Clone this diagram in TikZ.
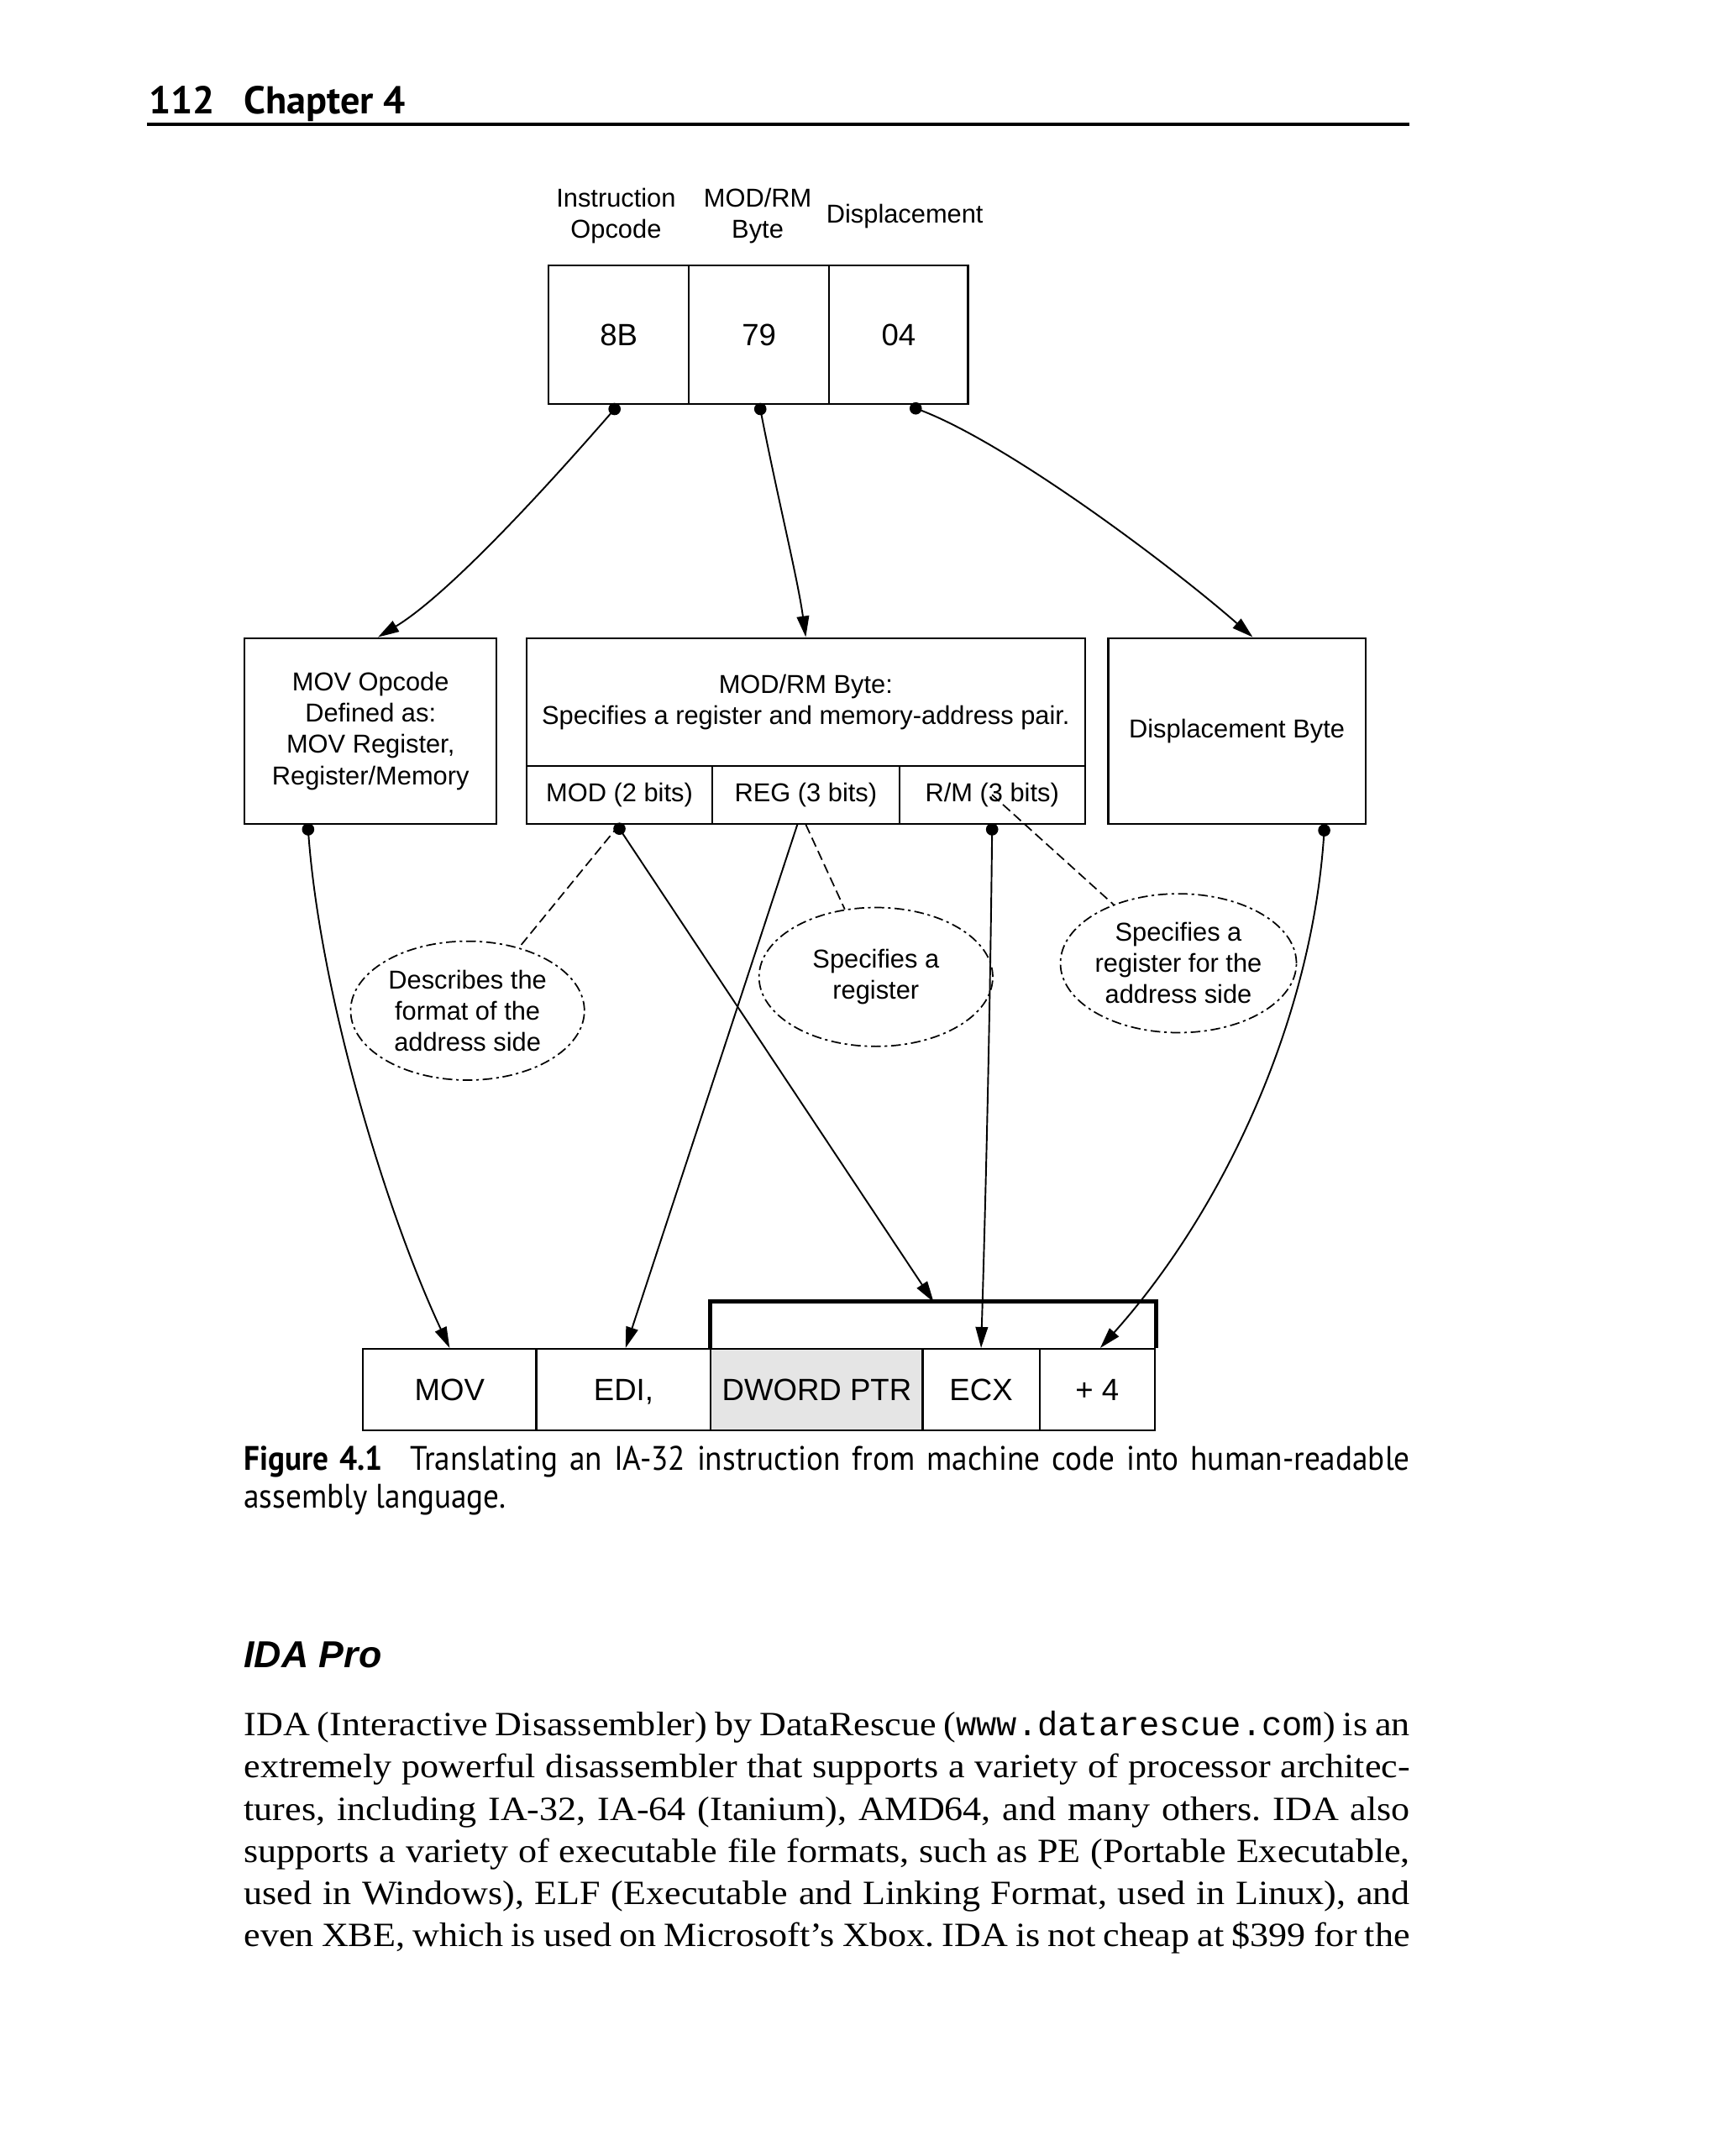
\documentclass[tikz,border=0pt]{standalone}
\usepackage{fontspec}
\setmainfont{Liberation Serif}
\newfontfamily\diafont{Liberation Sans}
\newfontfamily\capfont[FakeStretch=0.92]{PT Sans}
\newfontfamily\headfont{PT Sans}
\newfontfamily\bodyfont[FakeStretch=1.09]{Liberation Serif}
\newfontfamily\wwwfont{Liberation Mono}
\newfontfamily\idafont{Liberation Sans}
\usetikzlibrary{arrows.meta,shapes.geometric,calc}
\newlength\pxu
\setlength\pxu{0.425pt}
\begin{document}
\begin{tikzpicture}[x=0.425pt,y=-0.425pt,
  lbl/.style={align=center,inner sep=0pt,font=\diafont\fontsize{8}{9.4}\selectfont},
  cell/.style={draw,line width=0.55pt,inner sep=0pt,text height=6.8pt,text depth=0pt,
    font=\diafont\fontsize{9.5}{11}\selectfont},
  box/.style={draw,line width=0.55pt,inner sep=0pt,align=center,font=\diafont\fontsize{8}{9.7}\selectfont},
  note/.style={ellipse,draw,line width=0.45pt,dash pattern=on 3pt off 1.2pt on 0.8pt off 1.2pt,
    minimum width=170*\pxu,minimum height=101*\pxu,inner sep=0pt,align=center,
    font=\diafont\fontsize{8}{9.6}\selectfont},
  dashln/.style={line width=0.45pt,dash pattern=on 3pt off 1.5pt},
  arr/.style={line width=0.5pt,-{Triangle[length=6.5pt,width=3.8pt]}},
  txt/.style={anchor=base west,inner sep=0pt},
  bodyln/.style={txt,font=\bodyfont\fontsize{10.5}{13}\selectfont\frenchspacing}
]
\useasboundingbox (0,0) rectangle (1251,1568);
\fill[white] (0,0) rectangle (1251,1568);

% ---------- page header ----------
\node[txt,font=\headfont\bfseries\fontsize{12}{14}\selectfont] (pgno) at (108,82.5) {112};
\node[txt,font=\headfont\bfseries\fontsize{12}{14}\selectfont] (chap) at (177,82.5) {Chapter 4};
\draw[line width=0.9pt] (107,90.5) -- (1025,90.5);

% ---------- top labels ----------
\node[lbl] (lopc) at (448,157) {Instruction\\Opcode};
\node[lbl] (lmod) at (551,157) {MOD/RM\\Byte};
\node[lbl] (ldsp) at (658,157) {Displacement};

% ---------- top bytes ----------
\node[cell,minimum width=102*\pxu,minimum height=101*\pxu] (b8b) at (450,243.5) {8B};
\node[cell,minimum width=102*\pxu,minimum height=101*\pxu] (b79) at (552,243.5) {79};
\node[cell,minimum width=101*\pxu,minimum height=101*\pxu] (b04) at (653.5,243.5) {04};

% ---------- middle boxes ----------
\node[box,minimum width=183*\pxu,minimum height=135*\pxu] (mov) at (269.5,531.5)
  {MOV Opcode\\Defined as:\\MOV Register,\\Register/Memory};
\node[box,minimum width=406*\pxu,minimum height=93*\pxu] (modrm) at (586,510.5)
  {MOD/RM Byte:\\Specifies a register and memory-address pair.};
\node[box,minimum width=135*\pxu,minimum height=42*\pxu] (modf) at (450.5,578) {MOD (2 bits)};
\node[box,minimum width=136*\pxu,minimum height=42*\pxu] (regf) at (586,578) {REG (3 bits)};
\node[box,minimum width=135*\pxu,minimum height=42*\pxu] (rmf) at (721.5,578) {R/M (3 bits)};
\node[box,minimum width=187*\pxu,minimum height=135*\pxu] (dispb) at (899.5,531.5) {Displacement Byte};

% ---------- notes ----------
\node[note] (e1) at (340,735) {Describes the\\format of the\\address side};
\node[note] (e2) at (637,710.5) {Specifies a\\register};
\node[note] (e3) at (857,700.5) {Specifies a\\register for the\\address side};

% ---------- bottom instruction ----------
\node[cell,minimum width=126*\pxu,minimum height=59*\pxu] (tmov) at (327,1010.5) {MOV};
\node[cell,minimum width=127*\pxu,minimum height=59*\pxu] (tedi) at (453.5,1010.5) {EDI,};
\node[cell,minimum width=154*\pxu,minimum height=59*\pxu,fill=black!10] (tdw) at (594,1010.5) {DWORD PTR};
\node[cell,minimum width=85*\pxu,minimum height=59*\pxu] (tecx) at (713.5,1010.5) {ECX};
\node[cell,minimum width=84*\pxu,minimum height=59*\pxu] (tp4) at (798,1010.5) {+ 4};
\draw[line width=1.3pt] (tdw.north west) -- ++(0,-34) -| (tp4.north east);
\coordinate (brk) at (679,947);

% ---------- dots ----------
\coordinate (d1) at ([xshift=-1.3pt,yshift=-1.2pt]b8b.south);
\coordinate (d2) at ([xshift=0.4pt,yshift=-1.2pt]b79.south);
\coordinate (d3) at ([xshift=5.3pt,yshift=-1.0pt]b04.south);
\coordinate (d4) at ([xshift=-19.3pt,yshift=-1.5pt]mov.south);
\coordinate (d5) at ([yshift=-1.3pt]modf.south);
\coordinate (d6) at ([yshift=-1.5pt]rmf.south);
\coordinate (d7) at ([xshift=27pt,yshift=-1.8pt]dispb.south);
\foreach \d in {d1,d2,d3,d4,d5,d6,d7} \fill (\d) circle (1.9pt);

% ---------- connectors ----------
\draw[arr] (d1) .. controls (410,340) and (330,430) .. ([xshift=2.3pt]mov.north);
\draw[arr] (d2) .. controls (565,360) and (580,420) .. (modrm.north);
\draw[arr] (d3) .. controls (730,320) and (850,410) .. ([xshift=4.9pt]dispb.north);
\draw[arr] (d4) .. controls (232,720) and (280,880) .. (tmov.north);
\draw[arr] ([xshift=-2.6pt]regf.south) -- ([xshift=0.6pt]tedi.north);
\draw[arr] (d5) -- (brk);
\draw[arr] (d6) .. controls (720,750) and (716,900) .. (tecx.north);
\draw[arr] (d7) .. controls (955,740) and (890,880) .. ([xshift=0.9pt]tp4.north);

\draw[dashln] (modf.south) -- (e1);
\draw[dashln] (regf.south) -- (e2);
\draw[dashln] (rmf.center) -- (e3);

% ---------- caption ----------
\node[txt,font=\capfont\fontsize{10.5}{12}\selectfont] (cap1) at (177,1069)
  {\makebox[360.4pt][s]{\textbf{Figure 4.1}\hspace{0.8em}Translating an IA-32 instruction from machine code into human-readable}};
\node[txt,font=\capfont\fontsize{10.5}{12}\selectfont] (cap2) at (177,1097) {assembly language.};

% ---------- section head ----------
\node[txt,font=\idafont\bfseries\itshape\fontsize{11.6}{14}\selectfont] (sect) at (177,1212.5) {IDA Pro};

% ---------- body text ----------
\node[bodyln] (l1) at (177,1262.5) {\makebox[360.4pt][s]{IDA (Interactive Disassembler) by DataRescue ({\wwwfont www.datarescue.com}) is an}};
\node[bodyln] (l2) at (177,1293.1) {\makebox[360.4pt][s]{extremely powerful disassembler that supports a variety of processor architec-}};
\node[bodyln] (l3) at (177,1323.7) {\makebox[360.4pt][s]{tures, including IA-32, IA-64 (Itanium), AMD64, and many others. IDA also}};
\node[bodyln] (l4) at (177,1354.3) {\makebox[360.4pt][s]{supports a variety of executable file formats, such as PE (Portable Executable,}};
\node[bodyln] (l5) at (177,1384.9) {\makebox[360.4pt][s]{used in Windows), ELF (Executable and Linking Format, used in Linux), and}};
\node[bodyln] (l6) at (177,1415.5) {\makebox[360.4pt][s]{even XBE, which is used on Microsoft’s Xbox. IDA is not cheap at \$399 for the}};
\end{tikzpicture}
\end{document}
